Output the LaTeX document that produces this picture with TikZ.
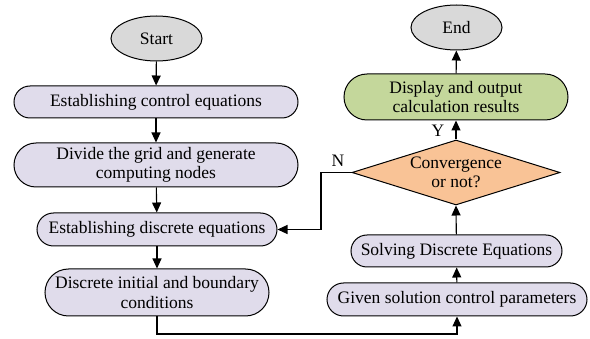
\documentclass[tikz,border=0pt]{standalone}
\usepackage{fontspec}
\setmainfont{Liberation Serif}
\usepackage{tikz}
\usetikzlibrary{shapes.geometric,arrows.meta}
\definecolor{boxlav}{HTML}{E0DCEB}
\definecolor{boxgreen}{HTML}{C4D79B}
\definecolor{boxorange}{HTML}{F9C396}
\definecolor{boxgray}{HTML}{D9D9D9}

\begin{document}
\begin{tikzpicture}[x=1pt,y=-1pt,
  every node/.style={font=\fontsize{17.5}{19.5}\selectfont, inner sep=0pt, align=center},
  term/.style={ellipse, draw, line width=1pt, fill=boxgray, minimum width=91pt, minimum height=45pt},
  procbox/.style={rectangle, draw, line width=1pt, fill=boxlav, rounded corners=#1, minimum height=2*#1},
  decbox/.style={diamond, draw, line width=1pt, fill=boxorange, aspect=3.2, minimum width=208pt, minimum height=65pt},
  arr/.style={line width=1.1pt, -{Triangle[length=10pt,width=9pt]}}]

\useasboundingbox (0,0) rectangle (590,339);

% left column
\node[term] (start) at (156.5,38.5) {Start};
\node[procbox=16pt, minimum width=284pt] (ctrleq) at (156,102) {Establishing control equations};
\node[procbox=22pt, minimum width=284pt] (grid) at (156,165) {Divide the grid and generate\\computing nodes};
\node[procbox=16.5pt, minimum width=240pt] (disceq) at (157,229.5) {Establishing discrete equations};
\node[procbox=23.5pt, minimum width=224pt] (bound) at (157,292.5) {Discrete initial and boundary\\conditions};

% right column
\node[procbox=16.5pt, minimum width=260pt] (given) at (457,299.5) {Given solution control parameters};
\node[procbox=16pt, minimum width=211pt] (solve) at (456.5,251) {Solving Discrete Equations};
\node[decbox] (conv) at (456,172.5) {Convergence\\or not?};
\node[procbox=23pt, minimum width=224pt, fill=boxgreen] (disp) at (456,97) {Display and output\\calculation results};
\node[term] (end) at (456.5,27.5) {End};

\node (lblN) at (338,161) {N};
\node (lblY) at (438,131) {Y};

\coordinate (low) at (157,334);
\coordinate (nbend) at (321,229.5);

\draw[arr] (start) -- (ctrleq);
\draw[arr] (ctrleq) -- (grid);
\draw[arr] (grid) -- (disceq);
\draw[arr] (disceq) -- (bound);
\draw[arr] (bound.south) -- (low) -| (given.south);
\draw[arr] (given) -- (solve);
\draw[arr] (solve) -- (conv.south);
\draw[arr] (conv.north) -- (disp);
\draw[arr] (disp) -- (end);
\draw[arr] (conv.west) -| (nbend) -- (disceq.east);

\end{tikzpicture}
\end{document}
